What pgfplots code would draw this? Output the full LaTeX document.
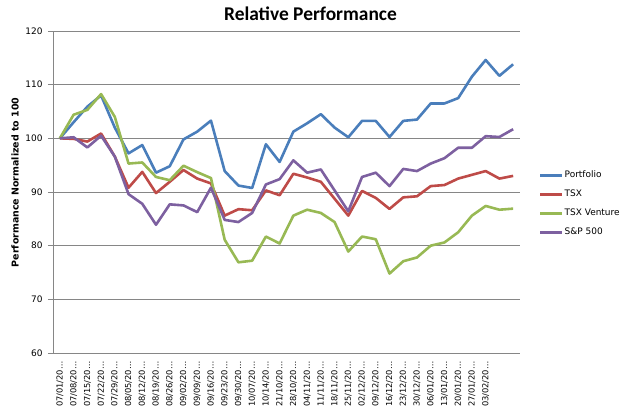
\documentclass[border=0pt]{standalone}
\usepackage{fontspec}
\setmainfont{DejaVu Sans}
\newfontfamily\titlefont{Carlito}
\usepackage{pgfplots}
\pgfplotsset{compat=1.18}
\definecolor{cPort}{HTML}{4A7EBB}
\definecolor{cTSX}{HTML}{BE4B48}
\definecolor{cVen}{HTML}{98B954}
\definecolor{cSP}{HTML}{7D60A0}
\definecolor{cGrid}{HTML}{868686}
\begin{document}
\begin{tikzpicture}
\path[use as bounding box] (0,0) rectangle (620bp,407bp);
\begin{axis}[
  at={(53bp,54bp)}, anchor=south west,
  scale only axis, width=467bp, height=322bp,
  xmin=-0.5, xmax=33.5, ymin=60, ymax=120,
  ytick={60,70,...,120},
  xtick={0,...,33},
  xticklabels={07/01/20…,07/08/20…,07/15/20…,07/22/20…,07/29/20…,08/05/20…,08/12/20…,08/19/20…,08/26/20…,09/02/20…,09/09/20…,09/16/20…,09/23/20…,09/30/20…,10/07/20…,10/14/20…,21/10/20…,28/10/20…,04/11/20…,11/11/20…,18/11/20…,25/11/20…,02/12/20…,09/12/20…,16/12/20…,23/12/20…,30/12/20…,06/01/20…,13/01/20…,20/01/20…,27/01/20…,03/02/20…,{},{}},
  axis lines*=left,
  axis line style={cGrid, line width=0.8bp},
  tick align=outside,
  major tick length=5bp,
  xtick style={draw=none},
  ytick style={cGrid, line width=0.8bp},
  ymajorgrids,
  grid style={cGrid, line width=0.8bp},
  /pgf/number format/assume math mode=true,
  yticklabel style={font=\fontsize{9}{10}\selectfont, anchor=east, xshift=-2bp},
  xticklabel style={font=\fontsize{8.3}{9}\selectfont, rotate=90, anchor=east},
  ylabel={Performance Normalized to 100},
  ylabel style={font=\fontsize{9.5}{11}\selectfont\bfseries, at={(axis description cs:-0.0814,0.53)}, anchor=center},
  legend style={at={(1.034,0.463)}, anchor=west, draw=none, fill=none,
    font=\fontsize{9}{10}\selectfont, row sep=8bp,
    nodes={inner sep=1bp, text height=7bp, text depth=2bp}},
  legend cell align=left,
  legend image code/.code={\draw[#1, line width=2.6bp] (0bp,0bp) -- (22bp,0bp);},
  every axis plot/.append style={line width=2.6bp, line join=round, no markers},
]
\addplot[cPort] coordinates {(0,100) (1,103.0) (2,105.9) (3,108.0) (4,102.0) (5,97.2) (6,98.75) (7,93.6) (8,94.8) (9,99.8) (10,101.25) (11,103.3) (12,93.9) (13,91.2) (14,90.75) (15,98.9) (16,95.6) (17,101.25) (18,102.8) (19,104.5) (20,102.0) (21,100.2) (22,103.25) (23,103.25) (24,100.25) (25,103.25) (26,103.5) (27,106.5) (28,106.5) (29,107.5) (30,111.5) (31,114.6) (32,111.65) (33,113.8)};
\addlegendentry{Portfolio}
\addplot[cTSX] coordinates {(0,100) (1,99.9) (2,99.4) (3,100.9) (4,96.6) (5,90.8) (6,93.75) (7,89.8) (8,91.9) (9,94.1) (10,92.5) (11,91.6) (12,85.6) (13,86.8) (14,86.6) (15,90.3) (16,89.4) (17,93.4) (18,92.7) (19,91.9) (20,88.75) (21,85.6) (22,90.2) (23,88.9) (24,86.85) (25,89.0) (26,89.2) (27,91.1) (28,91.3) (29,92.5) (30,93.2) (31,93.9) (32,92.5) (33,93.0)};
\addlegendentry{TSX}
\addplot[cVen] coordinates {(0,100) (1,104.4) (2,105.3) (3,108.25) (4,104.0) (5,95.3) (6,95.5) (7,92.8) (8,92.2) (9,94.9) (10,93.7) (11,92.6) (12,81.1) (13,76.9) (14,77.2) (15,81.7) (16,80.4) (17,85.6) (18,86.7) (19,86.1) (20,84.4) (21,78.9) (22,81.7) (23,81.2) (24,74.8) (25,77.1) (26,77.8) (27,80.0) (28,80.6) (29,82.5) (30,85.6) (31,87.4) (32,86.7) (33,86.9)};
\addlegendentry{TSX Venture}
\addplot[cSP] coordinates {(0,100) (1,100.2) (2,98.3) (3,100.5) (4,96.6) (5,89.6) (6,87.8) (7,83.9) (8,87.7) (9,87.5) (10,86.25) (11,90.8) (12,84.8) (13,84.4) (14,86.1) (15,91.4) (16,92.4) (17,95.9) (18,93.6) (19,94.2) (20,90.3) (21,86.4) (22,92.8) (23,93.6) (24,91.1) (25,94.3) (26,93.9) (27,95.3) (28,96.3) (29,98.25) (30,98.25) (31,100.4) (32,100.25) (33,101.7)};
\addlegendentry{S\&P 500}
\end{axis}
\node[font=\titlefont\bfseries\fontsize{19.5}{22}\selectfont, anchor=base] at (310.5bp,386bp) {Relative Performance};
\end{tikzpicture}
\end{document}
